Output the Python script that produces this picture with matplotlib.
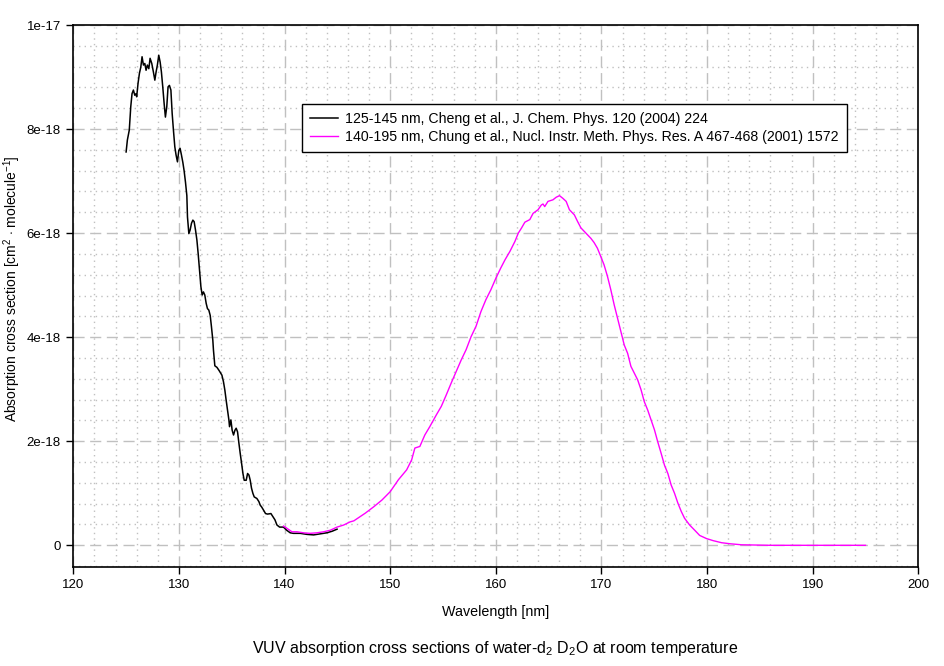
import matplotlib
matplotlib.use("Agg")
import matplotlib.pyplot as plt
from matplotlib.ticker import MultipleLocator, FixedLocator, FixedFormatter
import numpy as np

plt.rcParams["font.family"] = ["Liberation Sans", "DejaVu Sans"]
plt.rcParams["mathtext.fontset"] = "custom"
plt.rcParams["mathtext.rm"] = "Liberation Sans"
plt.rcParams["mathtext.it"] = "Liberation Sans"

# Cheng et al. 2004, 125-145 nm (cross section in 1e-18 cm^2)
cheng_nm = [125.0, 125.12, 125.3, 125.44, 125.56, 125.69, 125.82, 125.94, 126.0, 126.13,
            126.26, 126.39, 126.51, 126.64, 126.77, 126.89, 127.01, 127.15, 127.27, 127.43,
            127.58, 127.72, 127.84, 127.96, 128.09, 128.22, 128.34, 128.47, 128.6, 128.72,
            128.85, 128.97, 129.1, 129.24, 129.36, 129.48, 129.61, 129.73, 129.86, 129.99,
            130.11, 130.24, 130.37, 130.49, 130.62, 130.75, 130.81, 130.94, 131.06, 131.19,
            131.32, 131.44, 131.57, 131.7, 131.82, 131.95, 132.08, 132.2, 132.32, 132.45,
            132.58, 132.7, 132.83, 132.96, 133.08, 133.21, 133.27, 133.4, 133.6, 133.8,
            134.07, 134.22, 134.35, 134.47, 134.6, 134.73, 134.79, 134.92, 135.04, 135.17,
            135.3, 135.42, 135.55, 135.68, 135.8, 135.93, 136.06, 136.18, 136.37, 136.5,
            136.63, 136.75, 136.87, 137.0, 137.13, 137.38, 137.57, 137.7, 137.82, 138.0,
            138.2, 138.39, 138.71, 138.9, 139.09, 139.28, 139.53, 139.9, 140.2, 140.54,
            140.85, 141.49, 142.12, 142.75, 143.38, 144.0, 144.5, 144.97]
cheng_xs = [7.56, 7.79, 7.98, 8.43, 8.68, 8.75, 8.65, 8.68, 8.62, 8.88,
            9.07, 9.19, 9.39, 9.23, 9.26, 9.13, 9.23, 9.16, 9.36, 9.26,
            9.10, 8.94, 9.10, 9.23, 9.42, 9.29, 9.10, 8.81, 8.49, 8.23,
            8.43, 8.81, 8.84, 8.75, 8.30, 7.98, 7.66, 7.50, 7.37, 7.59,
            7.63, 7.50, 7.36, 7.20, 6.98, 6.72, 6.31, 5.99, 6.06, 6.19,
            6.25, 6.22, 6.06, 5.87, 5.61, 5.29, 4.97, 4.81, 4.87, 4.81,
            4.65, 4.55, 4.52, 4.42, 4.20, 3.94, 3.75, 3.45, 3.42, 3.36,
            3.27, 3.14, 2.98, 2.79, 2.60, 2.41, 2.28, 2.41, 2.21, 2.12,
            2.21, 2.25, 2.18, 1.96, 1.77, 1.58, 1.38, 1.25, 1.25, 1.38,
            1.35, 1.25, 1.10, 1.00, 0.93, 0.90, 0.84, 0.77, 0.74, 0.68,
            0.61, 0.60, 0.61, 0.55, 0.49, 0.39, 0.35, 0.35, 0.29, 0.24,
            0.23, 0.23, 0.21, 0.20, 0.22, 0.24, 0.27, 0.31]

# Chung et al. 2001, 140-195 nm (cross section in 1e-18 cm^2)
chung_nm = [139.9, 140.2, 140.7, 141.17, 141.8, 142.4, 143.07, 143.7, 144.33, 144.97,
            145.6, 146.2, 146.56, 147.66, 148.44, 149.22, 150.0, 150.78, 151.56, 152.03,
            152.34, 152.81, 153.28, 153.75, 154.38, 154.84, 155.31, 155.78, 156.25, 156.72,
            157.19, 157.66, 158.13, 158.59, 159.06, 159.53, 160.0, 160.47, 160.88, 161.34,
            161.81, 162.13, 162.44, 162.75, 163.22, 163.53, 164.0, 164.31, 164.47, 164.63,
            164.94, 165.41, 165.72, 166.03, 166.34, 166.66, 166.97, 167.44, 167.75, 168.06,
            168.53, 169.0, 169.3, 169.62, 169.94, 170.25, 170.57, 170.89, 171.21, 171.52,
            171.84, 172.16, 172.48, 172.79, 173.11, 173.43, 173.75, 174.06, 174.38, 174.7,
            175.02, 175.33, 175.65, 175.97, 176.29, 176.6, 176.92, 177.24, 177.56, 177.87,
            178.35, 178.83, 179.3, 179.94, 180.57, 181.37, 182.16, 183.27, 185.97, 195.0]
chung_xs = [0.37, 0.33, 0.26, 0.26, 0.24, 0.23, 0.24, 0.26, 0.29, 0.35,
            0.39, 0.45, 0.47, 0.62, 0.74, 0.87, 1.03, 1.26, 1.45, 1.64,
            1.87, 1.90, 2.12, 2.28, 2.51, 2.67, 2.89, 3.12, 3.34, 3.56,
            3.76, 4.01, 4.21, 4.49, 4.72, 4.91, 5.13, 5.33, 5.49, 5.65,
            5.84, 6.00, 6.10, 6.21, 6.26, 6.38, 6.45, 6.54, 6.56, 6.51,
            6.61, 6.64, 6.69, 6.72, 6.67, 6.61, 6.45, 6.35, 6.22, 6.10,
            6.00, 5.90, 5.82, 5.71, 5.55, 5.39, 5.17, 4.91, 4.62, 4.37,
            4.11, 3.85, 3.69, 3.44, 3.31, 3.18, 2.99, 2.76, 2.60, 2.41,
            2.22, 1.99, 1.77, 1.54, 1.38, 1.16, 1.00, 0.81, 0.65, 0.52,
            0.39, 0.29, 0.19, 0.13, 0.09, 0.05, 0.03, 0.01, 0.00, 0.00]

ytick_vals = [0, 2e-18, 4e-18, 6e-18, 8e-18, 1e-17]
ytick_labels = ["0", "2e-18", "4e-18", "6e-18", "8e-18", "1e-17"]

labels = ["125-145 nm, Cheng et al., J. Chem. Phys. 120 (2004) 224",
          "140-195 nm, Chung et al., Nucl. Instr. Meth. Phys. Res. A 467-468 (2001) 1572"]

fig = plt.figure(figsize=(9.44, 6.66), dpi=100)
ax = fig.add_axes([73.3 / 944, 1 - 567 / 666, (918.3 - 73.3) / 944, (567 - 25) / 666])

ax.plot(cheng_nm, np.array(cheng_xs) * 1e-18, color="black", lw=1.1, label=labels[0], zorder=3)
ax.plot(chung_nm, np.array(chung_xs) * 1e-18, color="#ff00ff", lw=1.0, label=labels[1], zorder=4)

ax.set_xlim(120, 200)
ax.set_ylim(-0.417e-18, 1e-17)
ax.xaxis.set_major_locator(MultipleLocator(10))
ax.xaxis.set_minor_locator(MultipleLocator(2))
ax.yaxis.set_major_locator(FixedLocator(ytick_vals))
ax.yaxis.set_major_formatter(FixedFormatter(ytick_labels))
ax.yaxis.set_minor_locator(MultipleLocator(0.4e-18))

ax.grid(which="major", color="#c0c0c0", ls=(0, (8, 4)), lw=1.0)
ax.grid(which="minor", color="#c0c0c0", ls=(0, (1, 3)), lw=1.0)
ax.set_axisbelow(True)
ax.tick_params(which="major", direction="out", length=5, width=1, labelsize=9.5, pad=4)
ax.tick_params(which="minor", length=0)
for sp in ax.spines.values():
    sp.set_linewidth(1.2)

ax.set_xlabel("Wavelength [nm]", fontsize=10.3, labelpad=10)
ax.set_ylabel(r"Absorption cross section [cm$^{\mathregular{2}}$ $\cdot$ molecule$^{\mathregular{-1}}$]",
              fontsize=10)
ax.yaxis.set_label_coords(-50 / 845, 0.513)

leg = ax.legend(loc="upper left", bbox_to_anchor=(302 / 944, 1 - 104 / 666),
                bbox_transform=fig.transFigure, borderaxespad=0, fontsize=10.2,
                fancybox=False, framealpha=1, edgecolor="black", handlelength=2.0,
                handletextpad=0.5, borderpad=0.55, labelspacing=0.3)
leg.get_frame().set_linewidth(1.0)

fig.text(495 / 944, 1 - 648 / 666,
         "VUV absorption cross sections of water-d$_{\\mathregular{2}}$ D$_{\\mathregular{2}}$O at room temperature",
         ha="center", va="center", fontsize=11.5)

plt.savefig("out.png", dpi=100)
